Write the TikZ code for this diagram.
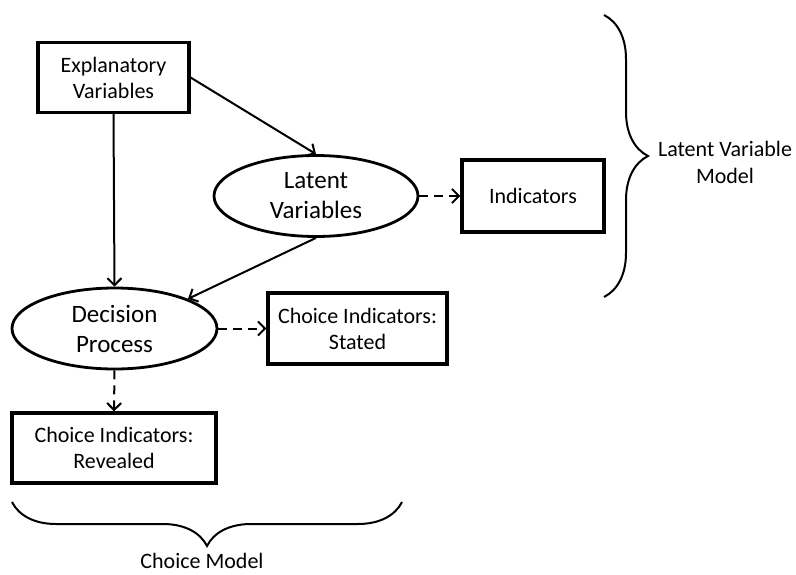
\documentclass[tikz,border=0pt]{standalone}
\usepackage{fontspec}
\setmainfont{Carlito}
\usetikzlibrary{arrows.meta,shapes.geometric,decorations.pathreplacing}
\tikzset{
  varbox/.style={draw, line width=3.2pt, minimum width=151pt, minimum height=70pt, inner sep=0pt, align=center, font=\fontsize{22}{26}\selectfont},
  varell/.style={ellipse, draw, line width=2.8pt, minimum width=205pt, minimum height=81pt, inner sep=0pt, align=center, font=\fontsize{25}{30}\selectfont},
  link/.style={line width=2pt, -{Straight Barb[length=7pt,width=14pt]}},
  maybe/.style={link, dash pattern=on 9pt off 6pt},
  bracelabel/.style={align=center, inner sep=0pt, font=\fontsize{22}{27}\selectfont},
  curly/.style={line width=2pt, decorate, decoration={brace, amplitude=44pt}}
}
\begin{document}
\begin{tikzpicture}[x=1pt, y=-1pt]
    \useasboundingbox (0,0) rectangle (796,574);

    % Latent variable model
    \node[varbox] (expl) at (113.5,77.5) {Explanatory\\Variables};
    \node[varell, minimum width=204pt] (latent) at (316,196) {Latent\\Variables};
    \node[varbox, minimum width=142pt, minimum height=72pt] (ind) at (533,196) {Indicators};

    % Choice model
    \node[varell] (decision) at (114.5,328.5) {Decision\\Process};
    \node[varbox, minimum width=179pt, minimum height=71pt] (stated) at (357.5,328.5) {Choice Indicators:\\Stated};
    \node[varbox, minimum width=204pt] (revealed) at (114,448) {Choice Indicators:\\Revealed};

    % Structural links
    \draw[link] (expl.east) -- (latent.north);
    \draw[link] (expl.south) -- (decision.north);
    \draw[link] (latent.south) -- (decision.north east);

    % Measurement links
    \draw[maybe] (latent.east) -- (ind.west);
    \draw[maybe] (decision.east) -- (stated.west);
    \draw[maybe] (decision.south) -- (revealed.north);

    % Braces and their labels
    \draw[curly] (604,15) -- (604,297);
    \node[bracelabel] (lvm) at (725,162) {Latent Variable\\Model};
    \draw[curly, decoration={mirror}] (12,502) -- (402,502);
    \node[bracelabel] (cm) at (202,561) {Choice Model};
\end{tikzpicture}
\end{document}
